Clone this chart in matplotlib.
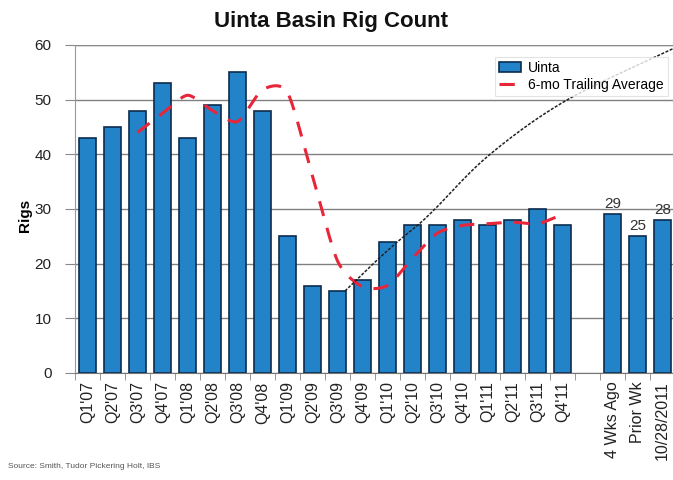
import numpy as np
import matplotlib
matplotlib.use("Agg")
import matplotlib.pyplot as plt
from matplotlib.ticker import FixedLocator, NullFormatter

plt.rcParams["font.family"] = ["Liberation Sans", "DejaVu Sans"]

categories = ["Q1'07", "Q2'07", "Q3'07", "Q4'07", "Q1'08", "Q2'08", "Q3'08", "Q4'08",
              "Q1'09", "Q2'09", "Q3'09", "Q4'09", "Q1'10", "Q2'10", "Q3'10", "Q4'10",
              "Q1'11", "Q2'11", "Q3'11", "Q4'11", "", "4 Wks Ago", "Prior Wk", "10/28/2011"]
uinta = [43, 45, 48, 53, 43, 49, 55, 48, 25, 16, 15, 17, 24, 27, 27, 28, 27, 28, 30, 27,
         None, 29, 25, 28]
labelled = {21: "29", 22: "25", 23: "28"}

# 6-mo trailing average (from Q3'07 to Q4'11)
ma_idx = [2, 3, 4, 5, 6, 7, 8, 9, 10, 11, 12, 13, 14, 15, 16, 17, 18, 19]
ma_val = [44, 47.5, 50.8, 48, 46, 51.8, 51.3, 36, 20.5, 15.8, 16, 21, 25.6, 27, 27.3, 27.6, 27.3, 29]

# hand-drawn trend line
trend_x = [10.3, 11.5, 12.4, 13.2, 13.9, 16.1, 19.2, 23.5]
trend_y = [15, 20.3, 24, 27, 30, 40, 50, 59.5]


def smooth(xs, ys, n=20, k=0.75):
    xs = np.asarray(xs, float); ys = np.asarray(ys, float)
    px = np.concatenate([[2 * xs[0] - xs[1]], xs, [2 * xs[-1] - xs[-2]]])
    py = np.concatenate([[2 * ys[0] - ys[1]], ys, [2 * ys[-1] - ys[-2]]])
    ox, oy = [], []
    t = np.linspace(0, 1, n, endpoint=False)
    h00 = 2 * t ** 3 - 3 * t ** 2 + 1
    h10 = t ** 3 - 2 * t ** 2 + t
    h01 = -2 * t ** 3 + 3 * t ** 2
    h11 = t ** 3 - t ** 2
    for i in range(1, len(px) - 2):
        for p, out in ((px, ox), (py, oy)):
            m1 = k * (p[i + 1] - p[i - 1]) / 2
            m2 = k * (p[i + 2] - p[i]) / 2
            out.extend(h00 * p[i] + h10 * m1 + h01 * p[i + 1] + h11 * m2)
    ox.append(xs[-1]); oy.append(ys[-1])
    return np.array(ox), np.array(oy)


fig = plt.figure(figsize=(6.73, 4.8), dpi=100)
ax = fig.add_axes([75 / 673, 107 / 480, 600 / 673, 328 / 480])

x = np.arange(len(categories))
bx = [i for i, v in enumerate(uinta) if v is not None]
bv = [uinta[i] for i in bx]
bars = ax.bar(bx, bv, width=0.68, color="#2383c9", edgecolor="#0d2c4e", linewidth=1.2,
              label="Uinta", zorder=3)

for i, t in labelled.items():
    ax.text(i, uinta[i] + 0.6, t, ha="center", va="bottom", fontsize=11, color="#333333")

sx, sy = smooth(ma_idx, ma_val)
ma_line, = ax.plot(sx, sy, color="#e8263a", lw=2.2, dashes=(5, 4),
                   label="6-mo Trailing Average", zorder=4)

tx, ty = smooth(trend_x, trend_y, k=1.0)
ax.plot(tx, ty, color="#222222", lw=1.1, ls=(0, (2, 1)), zorder=5, clip_on=False)

ax.set_xlim(-0.5, 23.5)
ax.set_ylim(0, 60)
ax.set_yticks(range(0, 61, 10))
ax.yaxis.grid(True, color="#808080", lw=1.0)
ax.set_axisbelow(True)
ax.axhline(60, color="#888888", lw=1.6, zorder=1)

ax.set_xticks(x)
ax.set_xticklabels(categories, rotation=90, fontsize=11.5, color="#222222")
ax.tick_params(axis="x", length=0, pad=6)
ax.xaxis.set_minor_locator(FixedLocator(np.arange(-0.5, 24, 1.0)))
ax.xaxis.set_minor_formatter(NullFormatter())
ax.tick_params(axis="x", which="minor", length=5, color="#888888")
ax.tick_params(axis="y", labelsize=11, length=7, pad=10, color="#888888",
               labelcolor="#222222")

for s in ("top", "right"):
    ax.spines[s].set_visible(False)
ax.spines["left"].set_color("#999999")
ax.spines["bottom"].set_color("#777777")

ax.set_ylabel("Rigs", fontsize=11, fontweight="bold", labelpad=2)
ax.yaxis.set_label_coords(-0.072, 0.48)

leg = ax.legend(handles=[bars, ma_line], loc="upper right", bbox_to_anchor=(1.0, 0.985),
                fontsize=10, frameon=True, fancybox=False, edgecolor="#dddddd",
                handlelength=1.6, borderpad=0.3, labelspacing=0.2, handletextpad=0.5)
leg.get_frame().set_linewidth(0.8)

fig.text(331 / 673, 1 - 22 / 480, "Uinta Basin Rig Count", ha="center", va="center",
         fontsize=16, fontweight="bold", color="#111111")
fig.text(8 / 673, 1 - 467 / 480, "Source: Smith, Tudor Pickering Holt, IBS", ha="left",
         va="center", fontsize=6, color="#555555")

fig.savefig("out.png", dpi=100)
